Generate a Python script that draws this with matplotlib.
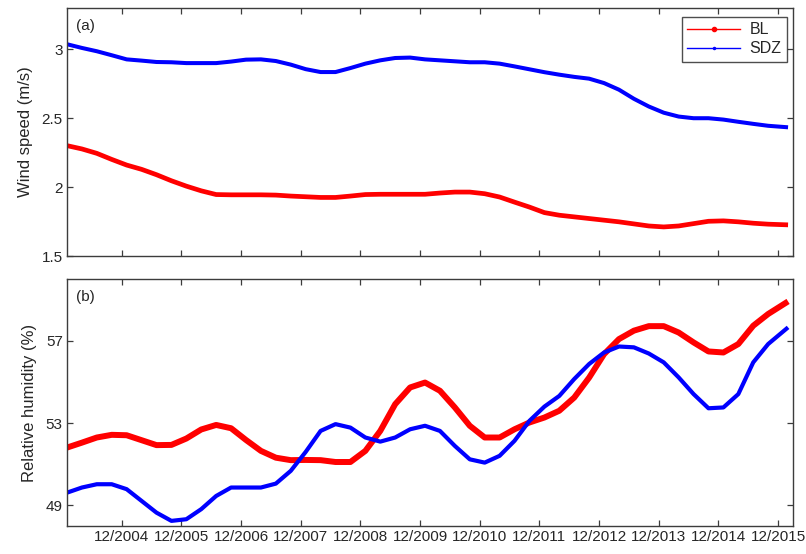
import numpy as np
import matplotlib
matplotlib.use('Agg')
import matplotlib.pyplot as plt
from matplotlib.lines import Line2D

plt.rcParams['font.family'] = ['Liberation Sans', 'DejaVu Sans']

# months since 01/2004, one reading every 3 months
months = [3 * k for k in range(48)] + [145]

wind_bl = [2.301, 2.277, 2.245, 2.201, 2.16, 2.129, 2.09, 2.046, 2.007, 1.973,
           1.946, 1.944, 1.944, 1.944, 1.942, 1.935, 1.93, 1.925, 1.925, 1.935,
           1.946, 1.948, 1.948, 1.948, 1.948, 1.957, 1.964, 1.964, 1.952, 1.928,
           1.891, 1.855, 1.815, 1.796, 1.784, 1.772, 1.76, 1.748, 1.733, 1.718,
           1.711, 1.718, 1.735, 1.752, 1.755, 1.748, 1.738, 1.731, 1.726]
wind_sdz = [3.037, 3.01, 2.986, 2.957, 2.927, 2.918, 2.908, 2.906, 2.90, 2.90,
            2.90, 2.911, 2.925, 2.927, 2.915, 2.889, 2.856, 2.835, 2.835, 2.864,
            2.896, 2.92, 2.937, 2.94, 2.927, 2.92, 2.913, 2.906, 2.906, 2.896,
            2.876, 2.855, 2.834, 2.816, 2.80, 2.787, 2.755, 2.707, 2.641, 2.585,
            2.54, 2.512, 2.50, 2.50, 2.49, 2.474, 2.459, 2.445, 2.434]

rh_bl = [51.81, 52.05, 52.30, 52.43, 52.41, 52.17, 51.93, 51.94, 52.25, 52.69,
         52.91, 52.75, 52.18, 51.65, 51.32, 51.2, 51.21, 51.2, 51.11, 51.11,
         51.65, 52.62, 53.92, 54.73, 54.97, 54.57, 53.76, 52.87, 52.30, 52.30,
         52.70, 53.03, 53.27, 53.6, 54.24, 55.21, 56.35, 57.08, 57.49, 57.71,
         57.71, 57.40, 56.92, 56.48, 56.43, 56.84, 57.73, 58.30, 58.91]
rh_sdz = [49.62, 49.87, 50.03, 50.03, 49.79, 49.22, 48.65, 48.25, 48.33, 48.82,
          49.46, 49.87, 49.87, 49.87, 50.06, 50.68, 51.6, 52.62, 52.95, 52.78,
          52.30, 52.10, 52.30, 52.70, 52.87, 52.62, 51.89, 51.24, 51.08, 51.41,
          52.14, 53.11, 53.8, 54.32, 55.14, 55.87, 56.43, 56.72, 56.68, 56.38,
          55.95, 55.22, 54.41, 53.72, 53.76, 54.41, 55.95, 56.84, 57.65]

tick_months = [11 + 12 * i for i in range(12)]
tick_labels = ['12/%d' % y for y in range(2004, 2016)]

txt = '#262626'
edge = '#3c3c3c'


def style(ax):
    ax.set_xlim(0, 146)
    ax.set_xticks(tick_months)
    ax.tick_params(direction='in', top=True, right=True, length=4.5,
                   width=0.9, color=edge, labelsize=11, labelcolor=txt, pad=3)
    for s in ax.spines.values():
        s.set_color(edge)
        s.set_linewidth(1.0)


fig = plt.figure(figsize=(8.06, 5.54), dpi=100)
ax1 = fig.add_axes([0.0831, 0.5379, 0.9008, 0.4477])
ax2 = fig.add_axes([0.0831, 0.0505, 0.9008, 0.4459])

line_kw = dict(solid_capstyle='butt', solid_joinstyle='round')

ax1.plot(months, wind_bl, color='#ff0000', lw=3.4, **line_kw)
ax1.plot(months, wind_sdz, color='#0000ff', lw=2.9, **line_kw)
style(ax1)
ax1.set_ylim(1.5, 3.3)
ax1.set_yticks([1.5, 2, 2.5, 3])
ax1.set_yticklabels(['1.5', '2', '2.5', '3'])
ax1.set_xticklabels([])
ax1.set_ylabel('Wind speed (m/s)', fontsize=12, color=txt, labelpad=6)
ax1.text(0.012, 0.955, '(a)', transform=ax1.transAxes, fontsize=11,
         color=txt, va='top', ha='left')

handles = [Line2D([], [], color='#ff0000', lw=1, marker='.', markersize=6),
           Line2D([], [], color='#0000ff', lw=1, marker='.', markersize=3)]
leg = ax1.legend(handles, ['BL', 'SDZ'], loc='upper right',
                 bbox_to_anchor=(0.992, 0.965), fontsize=11.5, frameon=True,
                 fancybox=False, handlelength=3.3, borderpad=0.35,
                 labelspacing=0.25, handletextpad=0.6, borderaxespad=0)
leg.get_frame().set_edgecolor('#222222')
leg.get_frame().set_linewidth(1.0)
for t in leg.get_texts():
    t.set_color(txt)

ax2.plot(months, rh_bl, color='#ff0000', lw=4.3, **line_kw)
ax2.plot(months, rh_sdz, color='#0000ff', lw=3.0, **line_kw)
style(ax2)
ax2.set_ylim(48, 60)
ax2.set_yticks([49, 53, 57])
ax2.set_xticklabels(tick_labels)
ax2.set_ylabel('Relative humidity (%)', fontsize=12, color=txt, labelpad=6)
ax2.text(0.012, 0.955, '(b)', transform=ax2.transAxes, fontsize=11,
         color=txt, va='top', ha='left')

fig.savefig('out.png', dpi=100)
